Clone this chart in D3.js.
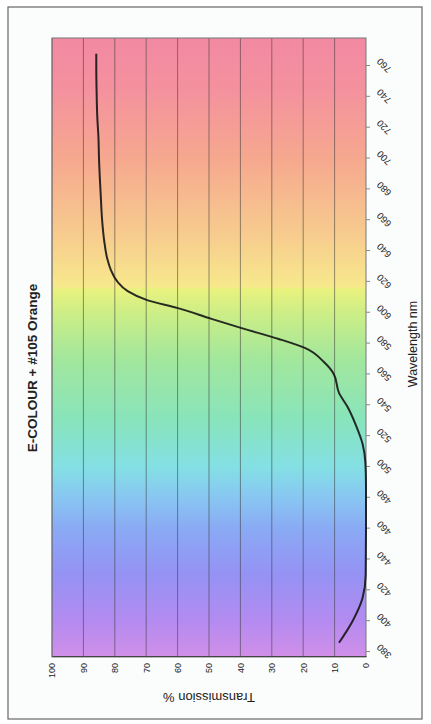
<!DOCTYPE html>
<html>
<head>
<meta charset="utf-8">
<script src="https://cdn.jsdelivr.net/npm/d3@7"></script>
<style>
    body { margin: 0; background: #fff; }
    svg { display: block; }
    text { font-family: Arial, "Liberation Sans", sans-serif; fill: #222; }
</style>
</head>
<body>
<svg id="chart" width="431" height="724"></svg>
<script>
// chart values
var chartTitle = "E-COLOUR + #105 Orange";
var xTitle = "Wavelength nm";
var yTitle = "Transmission %";

var wavelength = [386, 400, 415, 430, 458, 488, 503, 515, 527, 539, 548, 560, 568, 577, 583,
    590, 596, 603, 608, 614, 620, 628, 635, 647, 659, 677, 698, 713, 728, 744, 759, 768];
var transmission = [8.6, 4.3, 1.1, 0.1, 0, 0, 0.2, 1.1, 3.2, 5.9, 8.6, 10.2, 13.4, 19.3, 27.8,
    39.6, 49.2, 59.9, 69.5, 75.9, 79.1, 81.3, 82.4, 83.4, 84.0, 84.5, 85.0, 85.2, 85.6, 85.8, 85.9, 85.9];

var wavelengthTicks = [380, 400, 420, 440, 460, 480, 500, 520, 540, 560, 580, 600, 620, 640,
    660, 680, 700, 720, 740, 760];
var transmissionTicks = [0, 10, 20, 30, 40, 50, 60, 70, 80, 90, 100];

// spectrum behind the plot, by wavelength
var spectrumNm = [372, 400, 430, 460, 480, 500, 530, 570, 600, 615.5, 616.5, 650, 700, 745, 775];
var spectrumColor = ["#d18fe8", "#b48bf0", "#9592f4", "#8aaaf4", "#88c6f2", "#84e0e4", "#88e4bc",
    "#a2e79c", "#cdee86", "#eaf27e", "#f7e98c", "#f7cc8e", "#f6a88f", "#f4919e", "#f28aa2"];

var svg = d3.select("svg#chart");

// frame
svg.append("rect")
    .attr("x", 8).attr("y", 7)
    .attr("width", 414).attr("height", 712)
    .attr("fill", "#fbfcfc")
    .attr("stroke", "#666")
    .attr("stroke-width", 1.2);

// the chart is drawn sideways: build it flat then turn it a quarter left
var W = 724, H = 431,
    plot = {left: 67, right: 686, top: 52, bottom: 366};

var g = svg.append("g")
    .attr("transform", "translate(0," + W + ") rotate(-90)");

var x = d3.scaleLinear().domain([380, 760]).range([72, 658]);
var y = d3.scaleLinear().domain([0, 100]).range([plot.bottom, plot.top]);

var grad = svg.append("defs").append("linearGradient")
    .attr("id", "spectrum")
    .attr("gradientUnits", "userSpaceOnUse")
    .attr("x1", plot.left).attr("x2", plot.right)
    .attr("y1", 0).attr("y2", 0);

grad.selectAll("stop")
    .data(spectrumNm)
    .enter().append("stop")
    .attr("offset", function (d) {
        return (x(d) - plot.left) / (plot.right - plot.left);
    })
    .attr("stop-color", function (d, i) {
        return spectrumColor[i];
    });

g.append("rect")
    .attr("x", plot.left).attr("y", plot.top)
    .attr("width", plot.right - plot.left)
    .attr("height", plot.bottom - plot.top)
    .attr("fill", "url(#spectrum)");

// grid
g.append("g")
    .attr("class", "grid")
    .selectAll("line")
    .data(transmissionTicks.slice(1))
    .enter().append("line")
    .attr("x1", plot.left).attr("x2", plot.right)
    .attr("y1", function (d) { return y(d); })
    .attr("y2", function (d) { return y(d); })
    .attr("stroke", "#3a3a3a")
    .attr("stroke-opacity", 0.55)
    .attr("stroke-width", 1);

g.append("rect")
    .attr("x", plot.left).attr("y", plot.top)
    .attr("width", plot.right - plot.left)
    .attr("height", plot.bottom - plot.top)
    .attr("fill", "none")
    .attr("stroke", "#777")
    .attr("stroke-width", 1);

// value axis
var yAxis = d3.axisLeft(y)
    .tickValues(transmissionTicks)
    .tickSize(0)
    .tickPadding(6);

var yAx = g.append("g")
    .attr("class", "y axis")
    .attr("transform", "translate(" + plot.left + ",0)")
    .call(yAxis);
yAx.select(".domain").attr("stroke", "#444");
yAx.selectAll("text")
    .attr("font-size", 9)
    .attr("fill", "#333");

// wavelength axis
var xAxis = d3.axisBottom(x)
    .tickValues(wavelengthTicks)
    .tickSize(4)
    .tickSizeOuter(0)
    .tickFormat(d3.format("d"));

var xAx = g.append("g")
    .attr("class", "x axis")
    .attr("transform", "translate(0," + plot.bottom + ")")
    .call(xAxis);
xAx.select(".domain").remove();
xAx.selectAll("line").attr("stroke", "#888");
xAx.selectAll("text")
    .attr("font-size", 9.5)
    .attr("fill", "#333")
    .attr("text-anchor", "middle")
    .attr("y", 0)
    .attr("dy", "0.35em")
    .attr("transform", "translate(0,18) rotate(-45)");

// titles
g.append("text")
    .attr("x", 356).attr("y", 37)
    .attr("text-anchor", "middle")
    .attr("font-size", 13.5)
    .attr("font-weight", "bold")
    .text(chartTitle);

g.append("text")
    .attr("x", 380).attr("y", 417)
    .attr("text-anchor", "middle")
    .attr("font-size", 12.5)
    .text(xTitle);

g.append("text")
    .attr("transform", "translate(31," + ((plot.top + plot.bottom) / 2) + ") rotate(-90)")
    .attr("text-anchor", "middle")
    .attr("font-size", 13)
    .text(yTitle);

// curve
var line = d3.line()
    .x(function (d, i) { return x(wavelength[i]); })
    .y(function (d) { return y(d); })
    .curve(d3.curveMonotoneX);

g.append("path")
    .attr("class", "line")
    .attr("d", line(transmission))
    .attr("fill", "none")
    .attr("stroke", "#151515")
    .attr("stroke-opacity", 0.9)
    .attr("stroke-width", 2);
</script>
</body>
</html>
